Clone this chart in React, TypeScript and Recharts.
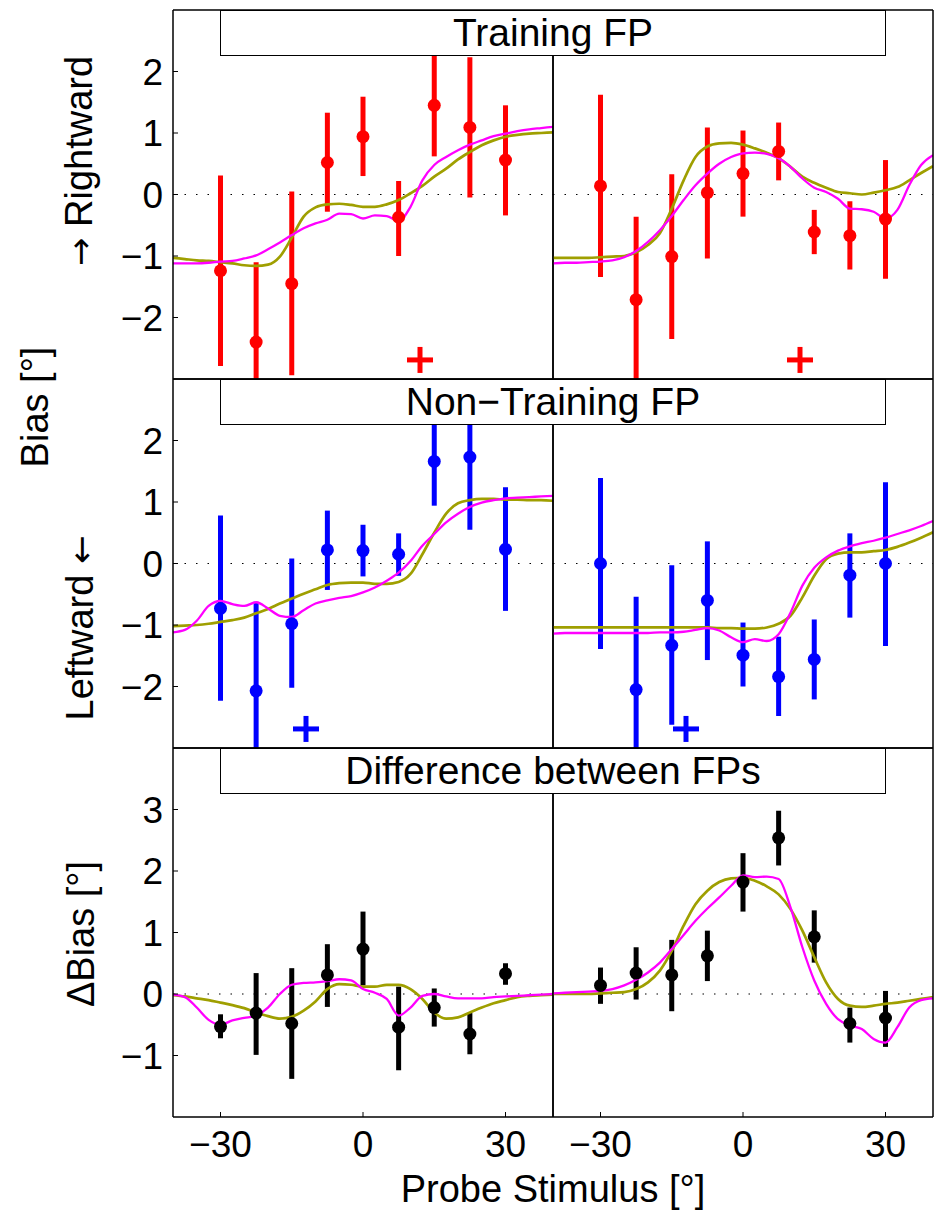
import React from "react";
import {
  ComposedChart,
  Line,
  Scatter,
  ErrorBar,
  XAxis,
  YAxis,
  ReferenceLine,
} from "recharts";

const FONT = "'Liberation Sans', Arial, Helvetica, sans-serif";
const ARROW_FONT = "'DejaVu Sans', 'Liberation Sans', sans-serif";

const probeX = [-30, -22.5, -15, -7.5, 0, 7.5, 15, 22.5, 30];
const curveX = [
  -40, -37.5, -35, -32.5, -30, -27.5, -25, -22.5, -20, -17.5, -15, -12.5, -10,
  -7.5, -5, -2.5, 0, 2.5, 5, 7.5, 10, 12.5, 15, 17.5, 20, 22.5, 25, 27.5, 30,
  32.5, 35, 37.5, 40,
];
const xTicks = [-30, 0, 30];
const biasTicks = [-2, -1, 0, 1, 2];
const diffTicks = [-1, 0, 1, 2, 3];

const titles = ["Training FP", "Non\u2212Training FP", "Difference between FPs"];

// Training FP, left column
const trainLMean = [-1.24, -2.4, -1.45, 0.52, 0.94, -0.37, 1.45, 1.09, 0.56];
const trainLLow = [-2.79, -3.7, -2.94, -0.28, 0.3, -1.0, 0.62, -0.05, -0.34];
const trainLHigh = [0.31, -1.1, 0.05, 1.33, 1.59, 0.22, 2.28, 2.23, 1.45];
const trainLOlive = [
  -1.03, -1.05, -1.07, -1.08, -1.1, -1.12, -1.15, -1.16, -1.14, -1.01, -0.7,
  -0.36, -0.21, -0.16, -0.15, -0.17, -0.2, -0.2, -0.16, -0.09, 0.02, 0.14, 0.29,
  0.42, 0.57, 0.69, 0.8, 0.88, 0.94, 0.97, 0.99, 1.0, 1.01,
];
const trainLMagenta = [
  -1.12, -1.12, -1.12, -1.11, -1.09, -1.08, -1.04, -0.99, -0.89, -0.78, -0.66,
  -0.55, -0.47, -0.41, -0.31, -0.32, -0.39, -0.34, -0.35, -0.43, -0.2, 0.23,
  0.48, 0.61, 0.72, 0.81, 0.88, 0.95, 0.99, 1.03, 1.06, 1.08, 1.1,
];

// Training FP, right column
const trainRMean = [0.14, -1.71, -1.01, 0.03, 0.34, 0.7, -0.61, -0.67, -0.4];
const trainRLow = [-1.34, -3.06, -2.35, -1.04, -0.36, 0.23, -0.97, -1.22, -1.37];
const trainRHigh = [1.62, -0.36, 0.33, 1.09, 1.04, 1.17, -0.25, -0.11, 0.56];
const trainROlive = [
  -1.03, -1.03, -1.03, -1.03, -1.02, -1.01, -1.0, -0.94, -0.82, -0.63, -0.23,
  0.23, 0.61, 0.78, 0.83, 0.84, 0.81, 0.75, 0.68, 0.59, 0.45, 0.29, 0.19, 0.11,
  0.04, 0.02, 0.0, 0.03, 0.07, 0.12, 0.23, 0.35, 0.46,
];
const trainRMagenta = [
  -1.12, -1.11, -1.11, -1.1, -1.09, -1.07, -1.02, -0.92, -0.77, -0.58, -0.35,
  -0.09, 0.15, 0.34, 0.5, 0.61, 0.67, 0.68, 0.66, 0.59, 0.45, 0.26, 0.11, 0.04,
  -0.07, -0.23, -0.24, -0.28, -0.39, -0.25, 0.15, 0.48, 0.64,
];

// Non-Training FP, left column
const nonLMean = [-0.73, -2.07, -0.98, 0.22, 0.21, 0.15, 1.66, 1.73, 0.23];
const nonLLow = [-2.23, -3.5, -2.02, -0.43, -0.21, -0.2, 0.94, 0.55, -0.77];
const nonLHigh = [0.78, -0.62, 0.08, 0.86, 0.63, 0.49, 2.39, 2.91, 1.24];
const nonLOlive = [
  -1.02, -1.01, -1.0, -0.98, -0.95, -0.92, -0.88, -0.81, -0.74, -0.65, -0.57,
  -0.49, -0.42, -0.35, -0.32, -0.31, -0.31, -0.33, -0.33, -0.3, -0.17, 0.15,
  0.5, 0.81, 0.98, 1.03, 1.05, 1.05, 1.04, 1.04, 1.03, 1.03, 1.02,
];
const nonLMagenta = [
  -1.12, -1.08, -0.93, -0.69, -0.61, -0.66, -0.69, -0.63, -0.73, -0.85, -0.87,
  -0.76, -0.65, -0.6, -0.56, -0.53, -0.47, -0.39, -0.28, -0.15, 0.04, 0.29,
  0.48, 0.67, 0.81, 0.92, 0.99, 1.03, 1.06, 1.07, 1.08, 1.09, 1.1,
];

// Non-Training FP, right column
const nonRMean = [0.0, -2.05, -1.33, -0.6, -1.49, -1.84, -1.56, -0.19, 0.0];
const nonRLow = [-1.39, -3.56, -2.62, -1.57, -2.0, -2.48, -2.21, -0.88, -1.34];
const nonRHigh = [1.39, -0.54, -0.03, 0.36, -0.96, -1.19, -0.91, 0.49, 1.32];
const nonROlive = [
  -1.04, -1.04, -1.04, -1.04, -1.04, -1.04, -1.04, -1.04, -1.04, -1.04, -1.04,
  -1.04, -1.04, -1.04, -1.05, -1.05, -1.06, -1.06, -1.04, -0.98, -0.85, -0.55,
  -0.2, 0.07, 0.16, 0.18, 0.18, 0.2, 0.22, 0.27, 0.34, 0.42, 0.51,
];
const nonRMagenta = [
  -1.14, -1.13, -1.13, -1.13, -1.13, -1.13, -1.13, -1.13, -1.13, -1.12, -1.12,
  -1.11, -1.08, -1.05, -1.09, -1.2, -1.28, -1.23, -1.26, -1.15, -0.8, -0.36,
  -0.07, 0.1, 0.21, 0.28, 0.33, 0.37, 0.42, 0.48, 0.54, 0.61, 0.69,
];

// Difference between FPs, left column
const diffLMean = [-0.53, -0.31, -0.48, 0.31, 0.73, -0.54, -0.22, -0.65, 0.33];
const diffLLow = [-0.72, -0.99, -1.38, -0.21, 0.14, -1.24, -0.53, -0.98, 0.15];
const diffLHigh = [-0.33, 0.34, 0.42, 0.81, 1.34, 0.12, 0.09, -0.31, 0.5];
const diffLOlive = [
  -0.02, -0.04, -0.07, -0.1, -0.14, -0.18, -0.23, -0.3, -0.36, -0.4, -0.37,
  -0.27, -0.12, 0.08, 0.16, 0.15, 0.12, 0.12, 0.15, 0.15, 0.08, -0.08, -0.3,
  -0.4, -0.38, -0.3, -0.22, -0.15, -0.1, -0.05, -0.03, -0.02, -0.01,
];
const diffLMagenta = [
  -0.01, -0.05, -0.22, -0.42, -0.5, -0.43, -0.39, -0.35, -0.22, 0.0, 0.15, 0.18,
  0.19, 0.21, 0.24, 0.22, 0.08, 0.02, -0.08, -0.35, -0.22, -0.03, 0.0, -0.04,
  -0.07, -0.07, -0.07, -0.05, -0.04, -0.03, -0.02, -0.01, 0.0,
];

// Difference between FPs, right column
const diffRMean = [0.14, 0.34, 0.31, 0.62, 1.82, 2.54, 0.93, -0.48, -0.39];
const diffRLow = [-0.16, -0.09, -0.28, 0.21, 1.34, 2.09, 0.51, -0.79, -0.86];
const diffRHigh = [0.43, 0.76, 0.88, 1.03, 2.29, 2.98, 1.36, -0.22, 0.05];
const diffROlive = [
  0.0, 0.0, 0.0, 0.0, 0.01, 0.02, 0.03, 0.08, 0.19, 0.38, 0.7, 1.11, 1.46, 1.68,
  1.82, 1.88, 1.89, 1.84, 1.75, 1.62, 1.38, 1.03, 0.6, 0.19, -0.08, -0.19,
  -0.21, -0.19, -0.16, -0.14, -0.11, -0.08, -0.05,
];
const diffRMagenta = [
  0.01, 0.02, 0.03, 0.04, 0.05, 0.08, 0.14, 0.23, 0.35, 0.51, 0.73, 0.96, 1.19,
  1.39, 1.57, 1.76, 1.93, 1.9, 1.91, 1.87, 1.41, 0.76, 0.22, -0.16, -0.41,
  -0.51, -0.57, -0.73, -0.79, -0.54, -0.22, -0.1, -0.07,
];

// location of the "+" marker in each row
const crossX = [12, -12, null];
const crossY = -2.69;

const OLIVE = "#9f9f00";
const MAGENTA = "#ff00ff";

const ROW_TOP = [10, 379, 748];
const ROW_H = 369;
const LEFT_PLOT = 173;
const COL_SPLIT = 553;
const PLOT_W = 380;

function toPoints(mean: number[], low: number[], high: number[]) {
  return probeX.map((x, i) => ({
    x,
    y: mean[i],
    err: [mean[i] - low[i], high[i] - mean[i]],
  }))
}

function toCurve(vals: number[]) {
  return curveX.map((x, i) => ({ x, y: vals[i] }))
}

const fmt = (v: number) => (v < 0 ? "\u2212" + Math.abs(v) : String(v));

interface PanelProps {
  row: number
  col: number
  mean: number[]
  low: number[]
  high: number[]
  olive: number[]
  magenta: number[]
  color: string
}

function Panel({ row, col, mean, low, high, olive, magenta, color }: PanelProps) {
  const isLeft = col === 0
  const isBottom = row === 2
  const domain = isBottom ? [-2, 4] : [-3, 3]
  const yTicks = isBottom ? diffTicks : biasTicks
  const points = toPoints(mean, low, high)
  const cross = crossX[row] != null ? [{ x: crossX[row], y: crossY }] : []
  // axes need at least 1px of room or recharts skips drawing them
  const leftW = isLeft ? LEFT_PLOT : 1
  const width = leftW + PLOT_W + 1
  const xLabH = isBottom ? 60 : 1
  const height = 1 + ROW_H + xLabH
  const tickStyle = { fontSize: 37, fill: "#000", fontFamily: FONT }
  const frame = { stroke: "#000", strokeWidth: 1.5 }

  return (
    <div
      style={{
        position: "absolute",
        left: isLeft ? 0 : COL_SPLIT - 1,
        top: ROW_TOP[row] - 1,
        width,
        height,
      }}
    >
      <ComposedChart
        width={width}
        height={height}
        margin={{ top: 0, right: 0, bottom: 0, left: 0 }}
      >
        <XAxis
          dataKey="x"
          type="number"
          domain={[-40, 40]}
          ticks={xTicks}
          interval={0}
          allowDataOverflow
          height={xLabH}
          tickSize={-5}
          tickMargin={isBottom ? 19 : 0}
          tick={isBottom ? tickStyle : false}
          tickFormatter={fmt}
          axisLine={frame}
          tickLine={{ stroke: "#000", strokeWidth: 1 }}
        />
        <XAxis
          xAxisId="top"
          orientation="top"
          dataKey="x"
          type="number"
          domain={[-40, 40]}
          ticks={xTicks}
          interval={0}
          height={1}
          tick={false}
          tickLine={false}
          axisLine={frame}
        />
        <YAxis
          type="number"
          domain={domain}
          ticks={yTicks}
          interval={0}
          allowDataOverflow
          width={leftW}
          tickSize={-5}
          tickMargin={15}
          tick={isLeft ? tickStyle : false}
          tickFormatter={fmt}
          axisLine={frame}
          tickLine={{ stroke: "#000", strokeWidth: 1 }}
        />
        <YAxis
          yAxisId="right"
          orientation="right"
          type="number"
          domain={domain}
          ticks={yTicks}
          interval={0}
          allowDataOverflow
          width={1}
          tickSize={-5}
          tick={false}
          axisLine={frame}
          tickLine={{ stroke: "#000", strokeWidth: 1 }}
        />
        <ReferenceLine y={0} stroke="#000" strokeWidth={1.2} strokeDasharray="1.5 10" />
        <Scatter
          data={points}
          dataKey="y"
          isAnimationActive={false}
          shape={(p: any) => <circle cx={p.cx} cy={p.cy} r={6.5} fill={color} />}
        >
          <ErrorBar dataKey="err" direction="y" width={0} strokeWidth={5} stroke={color} />
        </Scatter>
        <Line
          data={toCurve(olive)}
          dataKey="y"
          type="monotone"
          stroke={OLIVE}
          strokeWidth={2.7}
          dot={false}
          activeDot={false}
          isAnimationActive={false}
        />
        <Line
          data={toCurve(magenta)}
          dataKey="y"
          type="monotone"
          stroke={MAGENTA}
          strokeWidth={2.3}
          dot={false}
          activeDot={false}
          isAnimationActive={false}
        />
        <Scatter
          data={cross}
          dataKey="y"
          isAnimationActive={false}
          shape={(p: any) => (
            <g>
              <line x1={p.cx - 13} x2={p.cx + 13} y1={p.cy} y2={p.cy} stroke={color} strokeWidth={5} />
              <line x1={p.cx} x2={p.cx} y1={p.cy - 13} y2={p.cy + 13} stroke={color} strokeWidth={5} />
            </g>
          )}
        />
      </ComposedChart>
    </div>
  )
}

function TitleBox({ row }: { row: number }) {
  return (
    <div
      style={{
        position: "absolute",
        left: 220,
        top: ROW_TOP[row],
        width: 666,
        height: 46,
        boxSizing: "border-box",
        border: "1.5px solid #000",
        background: "#fff",
        display: "flex",
        alignItems: "center",
        justifyContent: "center",
        fontFamily: FONT,
        fontSize: 39,
        color: "#000",
        whiteSpace: "nowrap",
      }}
    >
      {titles[row]}
    </div>
  )
}

export default function App() {
  return (
    <div
      style={{
        position: "absolute",
        left: 0,
        top: 0,
        width: 934,
        height: 1211,
        background: "#fff",
        overflow: "hidden",
      }}
    >
      <Panel row={0} col={0} mean={trainLMean} low={trainLLow} high={trainLHigh} olive={trainLOlive} magenta={trainLMagenta} color="#ff0000" />
      <Panel row={0} col={1} mean={trainRMean} low={trainRLow} high={trainRHigh} olive={trainROlive} magenta={trainRMagenta} color="#ff0000" />
      <Panel row={1} col={0} mean={nonLMean} low={nonLLow} high={nonLHigh} olive={nonLOlive} magenta={nonLMagenta} color="#0000ff" />
      <Panel row={1} col={1} mean={nonRMean} low={nonRLow} high={nonRHigh} olive={nonROlive} magenta={nonRMagenta} color="#0000ff" />
      <Panel row={2} col={0} mean={diffLMean} low={diffLLow} high={diffLHigh} olive={diffLOlive} magenta={diffLMagenta} color="#000000" />
      <Panel row={2} col={1} mean={diffRMean} low={diffRLow} high={diffRHigh} olive={diffROlive} magenta={diffRMagenta} color="#000000" />

      <TitleBox row={0} />
      <TitleBox row={1} />
      <TitleBox row={2} />

      <svg
        width={934}
        height={1211}
        style={{ position: "absolute", left: 0, top: 0, pointerEvents: "none" }}
        fontFamily={FONT}
        fontSize={38}
      >
        <text transform="translate(92,161) rotate(-90)" textAnchor="middle">
          <tspan fontFamily={ARROW_FONT} fontSize={34}>{"\u2192"}</tspan>
          {" Rightward"}
        </text>
        <text transform="translate(48,407) rotate(-90)" textAnchor="middle">
          {"Bias [\u00b0]"}
        </text>
        <text transform="translate(93,628) rotate(-90)" textAnchor="middle">
          {"Leftward "}
          <tspan fontFamily={ARROW_FONT} fontSize={34}>{"\u2190"}</tspan>
        </text>
        <text transform="translate(94,934) rotate(-90)" textAnchor="middle">
          {"\u0394Bias [\u00b0]"}
        </text>
        <text x={553} y={1202} textAnchor="middle">
          {"Probe Stimulus [\u00b0]"}
        </text>
      </svg>
    </div>
  )
}
